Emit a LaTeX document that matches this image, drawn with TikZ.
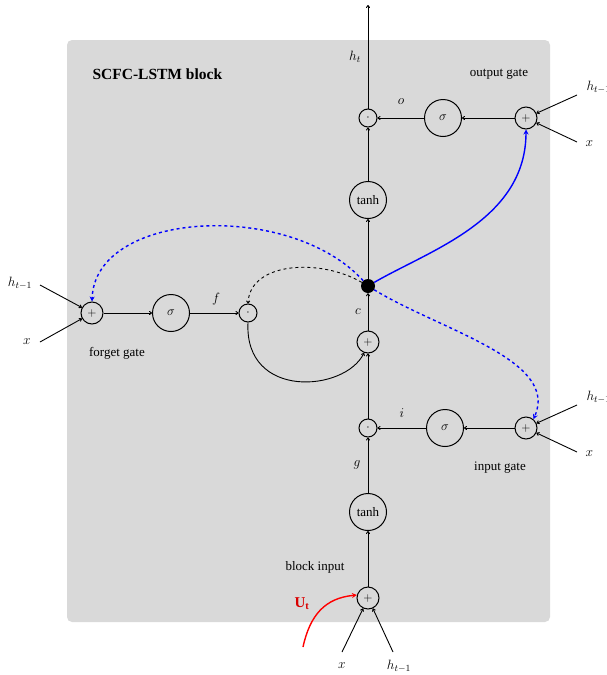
\RequirePackage{fix-cm}
\documentclass[tikz,border=0pt]{standalone}
\usepackage{fontspec}
\setmainfont{Liberation Serif}
\usetikzlibrary{arrows.meta}
\definecolor{boxgray}{RGB}{217,217,217}
\begin{document}
\begin{tikzpicture}[x=1pt,y=-1pt,
  every node/.style={font=\fontsize{13.5}{16}\selectfont},
  op/.style={circle,draw,line width=1pt,minimum size=22pt,inner sep=0pt,font=\fontsize{12}{14}\selectfont},
  dotop/.style={circle,draw,line width=1pt,minimum size=18pt,inner sep=0pt,font=\fontsize{12}{14}\selectfont},
  act/.style={circle,draw,line width=1pt,minimum size=37pt,inner sep=0pt,font=\fontsize{13}{15}\selectfont},
  lbl/.style={font=\fontsize{13}{15}\selectfont},
  conn/.style={->,line width=0.9pt,>={To[length=3pt,width=4pt]}},
  blueconn/.style={->,line width=1.4pt,blue,>={Stealth[length=5pt,width=5pt]}}]
\useasboundingbox (0,0) rectangle (606,675);
\fill[boxgray,rounded corners=5pt] (67,40) rectangle (550,622);
\node[anchor=west,font=\fontsize{15.5}{18}\selectfont\bfseries] (title) at (89,74) {SCFC-LSTM block};

% main column
\node[dotop] (op) at (368,118) {$\cdot$};
\node[act] (tt) at (368,200) {tanh};
\node[circle,fill=black,minimum size=14pt,inner sep=0pt] (cd) at (368,286) {};
\node[op] (cp) at (368,342) {$+$};
\node[dotop] (ip) at (368,428) {$\cdot$};
\node[act] (tb) at (368,512) {tanh};
\node[op] (bp) at (368,598) {$+$};
\coordinate (top) at (368,5);

% output gate
\node[act] (os) at (443,118) {$\sigma$};
\node[op] (oa) at (526,118) {$+$};
\node[lbl] (ogl) at (499,74) {output gate};
\node[anchor=west] (oh) at (583,87) {$h_{t-1}$};
\node[anchor=west] (ox) at (582,144) {$x$};
\coordinate (ohs) at (577,95);
\coordinate (oxs) at (577,142);

% input gate
\node[act] (is) at (445,428) {$\sigma$};
\node[op] (ia) at (526,428) {$+$};
\node[lbl] (igl) at (500,468) {input gate};
\node[anchor=west] (ih) at (583,397) {$h_{t-1}$};
\node[anchor=west] (ix) at (582,454) {$x$};
\coordinate (ihs) at (577,405);
\coordinate (ixs) at (577,452);

% forget gate
\node[op] (fa) at (92,313) {$+$};
\node[act] (fs) at (171,313) {$\sigma$};
\node[dotop] (fp) at (248,313) {$\cdot$};
\node[lbl] (fgl) at (117,353) {forget gate};
\node (fh) at (20,283) {$h_{t-1}$};
\node (fx) at (27,342) {$x$};
\coordinate (fhs) at (40,285);
\coordinate (fxs) at (40,342);

% block input
\node[lbl] (bil) at (315,567) {block input};
\node[red!85!black,font=\fontsize{15}{17}\selectfont\bfseries] (ut) at (302,604) {U$_{\mathbf t}$};
\node (bx) at (342,666) {$x$};
\node (bh) at (399,666) {$h_{t-1}$};
\coordinate (bxs) at (342,652);
\coordinate (bhs) at (393,652);
\coordinate (rs) at (303,647);

% labels
\node (htl) at (355,57) {$h_t$};
\node (ol) at (401,102) {$o$};
\node (cl) at (358,312) {$c$};
\node (il) at (402,413) {$i$};
\node (gl) at (357,465) {$g$};
\node (fl) at (216,299) {$f$};

% main connectors
\draw[conn] (op) -- (top);
\draw[conn] (tt) -- (op);
\draw[conn] (cd) -- (tt);
\draw[conn] (cp) -- (cd);
\draw[conn] (ip) -- (cp);
\draw[conn] (tb) -- (ip);
\draw[conn] (bp) -- (tb);

\draw[conn] (os) -- (op);
\draw[conn] (oa) -- (os);
\draw[conn] (ohs) -- (oa);
\draw[conn] (oxs) -- (oa);

\draw[conn] (is) -- (ip);
\draw[conn] (ia) -- (is);
\draw[conn] (ihs) -- (ia);
\draw[conn] (ixs) -- (ia);

\draw[conn] (fhs) -- (fa);
\draw[conn] (fxs) -- (fa);
\draw[conn] (fa) -- (fs);
\draw[conn] (fs) -- (fp);
\draw[conn] (fp.south) .. controls (244,400) and (345,392) .. (cp.-110);
\draw[conn,dashed] (cd) .. controls (320,258) and (250,262) .. (fp.north);

\draw[conn] (bxs) -- (bp.-115);
\draw[conn] (bhs) -- (bp.-65);
\draw[->,red,line width=1.4pt,>={Stealth[length=5pt,width=5pt]}] (rs) .. controls (310,615) and (325,598) .. (bp.165);

% blue connectors
\draw[blueconn,dashed] (cd) .. controls (290,200) and (95,210) .. (fa.north);
\draw[blueconn,dashed] (cd) .. controls (440,330) and (560,360) .. (ia.50);
\draw[blueconn] (cd) .. controls (430,250) and (526,220) .. (oa.south);
\end{tikzpicture}
\end{document}
